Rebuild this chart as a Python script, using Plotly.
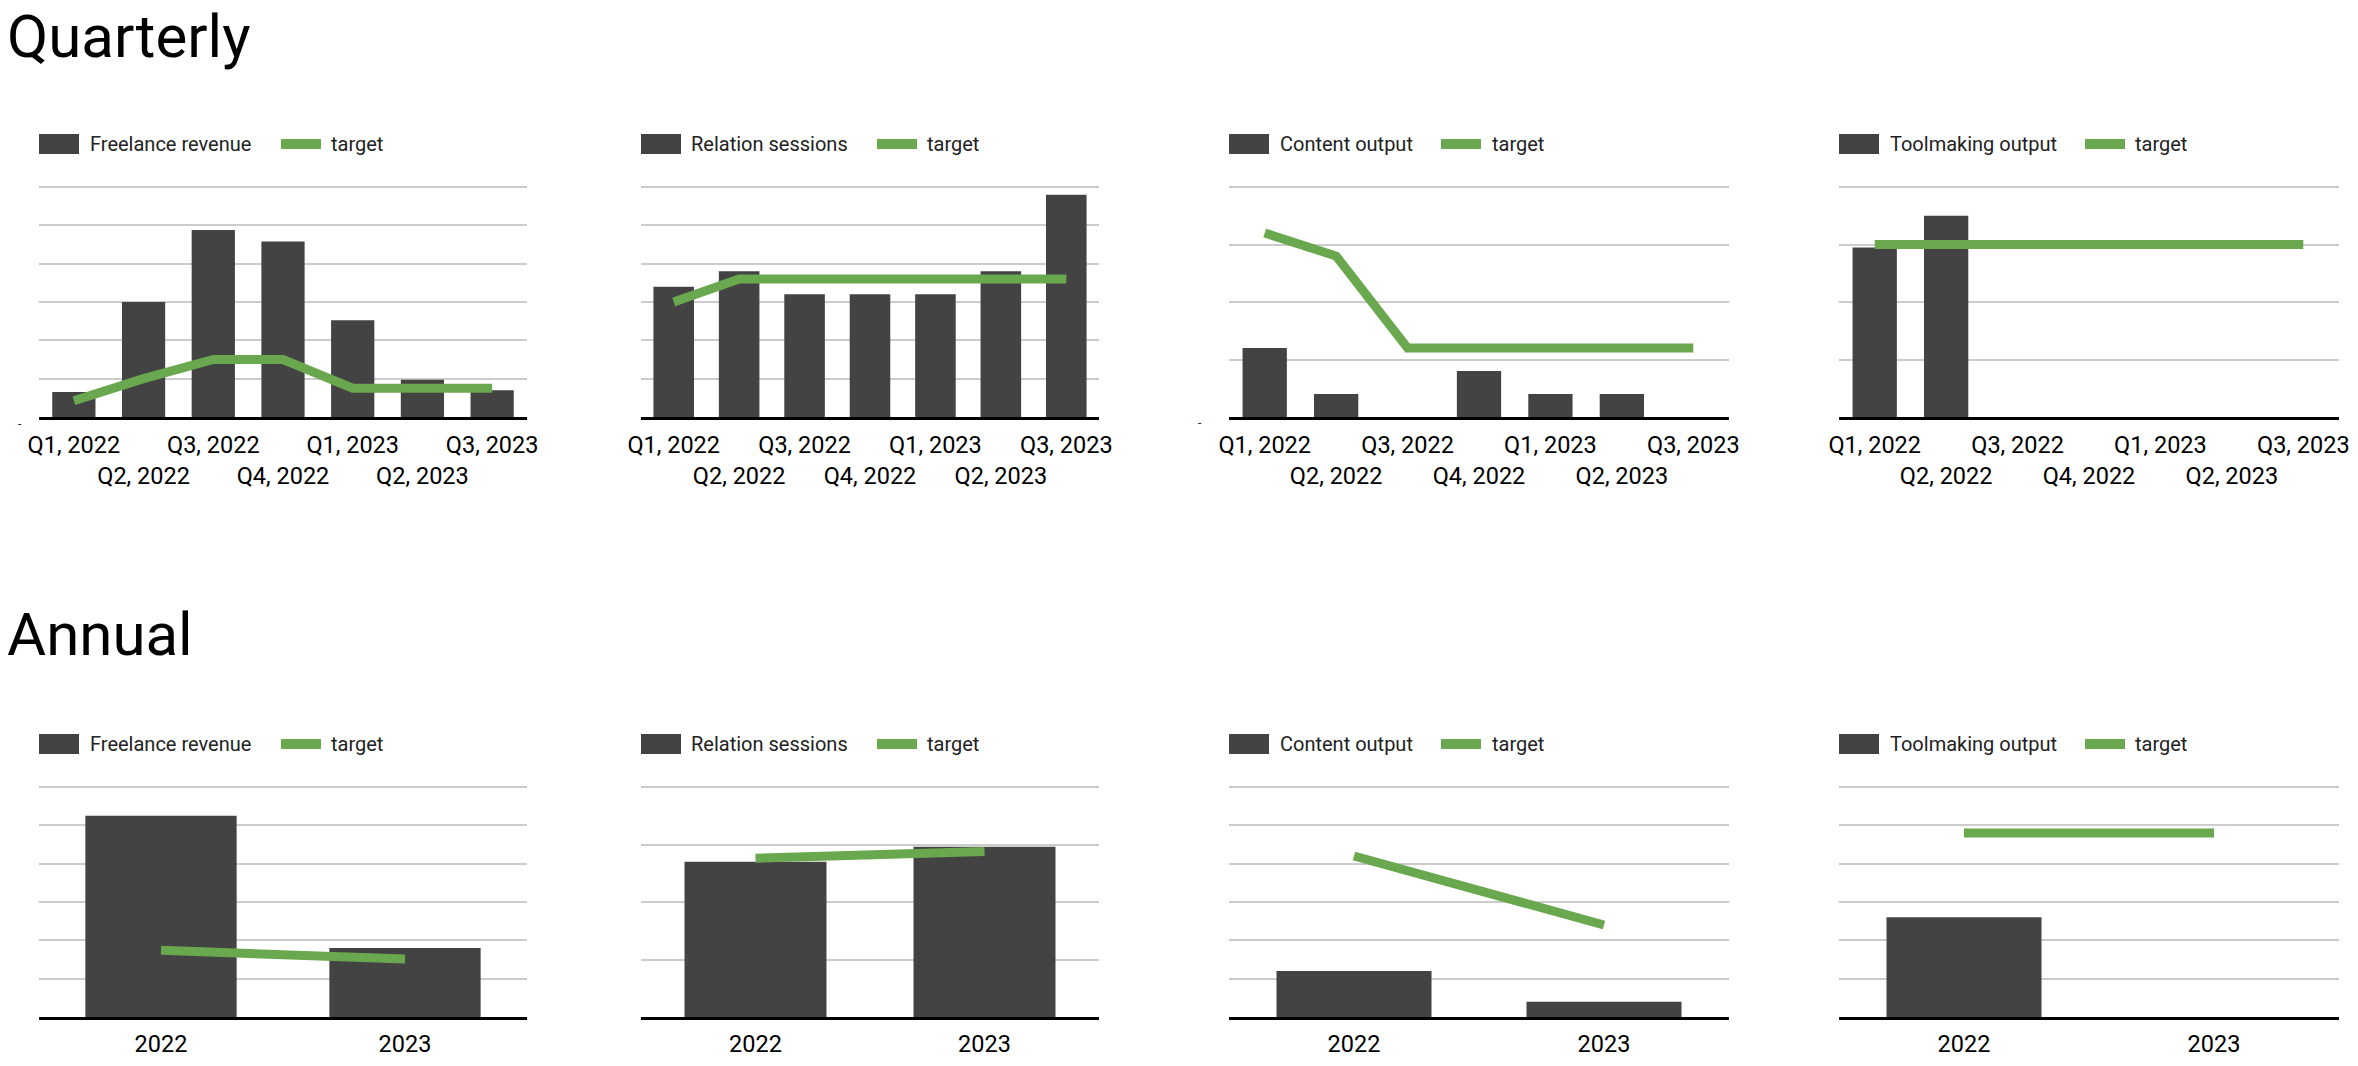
import plotly.graph_objects as go

W, H = 2358, 1066

# ---------------- data ----------------
quarters = ["Q1, 2022", "Q2, 2022", "Q3, 2022", "Q4, 2022", "Q1, 2023", "Q2, 2023", "Q3, 2023"]
years = ["2022", "2023"]

freelance_q = [1300, 6000, 9750, 9150, 5050, 1950, 1400]
freelance_q_target = [850, 2000, 3000, 3000, 1500, 1500, 1500]
relation_q = [17, 19, 16, 16, 16, 19, 29]
relation_q_target = [15, 18, 18, 18, 18, 18, 18]
content_q = [3, 1, 0, 2, 1, 1, 0]
content_q_target = [8, 7, 3, 3, 3, 3, 3]
tool_q = [5.9, 7, 0, 0, 0, 0, 0]
tool_q_target = [6, 6, 6, 6, 6, 6, 6]

freelance_y = [26250, 9000]
freelance_y_target = [8700, 7550]
relation_y = [67.5, 74]
relation_y_target = [69, 72]
content_y = [6, 2]
content_y_target = [21, 12]
tool_y = [13, 0]
tool_y_target = [24, 24]

series_names = ["Freelance revenue", "Relation sessions", "Content output", "Toolmaking output"]

# ---------------- styling ----------------
BAR = "#434343"
GREEN = "#6aa84f"
GRID = "#cccccc"
FONT = "Roboto"
PAD = 1.01  # headroom so the top gridline is drawn

fig = go.Figure()

def px_x(p):
    return p / W

def px_y(p):
    return 1 - p / H

# column plot extents (px)
cols = [(39, 527), (641, 1099), (1229, 1729), (1839, 2339)]
rows = {"q": (187, 417), "y": (787, 1017)}

charts = [
    ("q", 0, quarters, freelance_q, freelance_q_target, 12000, 2000),
    ("q", 1, quarters, relation_q, relation_q_target, 30, 5),
    ("q", 2, quarters, content_q, content_q_target, 10, 2.5),
    ("q", 3, quarters, tool_q, tool_q_target, 8, 2),
    ("y", 0, years, freelance_y, freelance_y_target, 30000, 5000),
    ("y", 1, years, relation_y, relation_y_target, 100, 25),
    ("y", 2, years, content_y, content_y_target, 30, 5),
    ("y", 3, years, tool_y, tool_y_target, 30, 5),
]

layout_axes = {}
for i, (row, col, cats, bars, tgt, ymax, dt) in enumerate(charts, start=1):
    xa = "x" if i == 1 else f"x{i}"
    ya = "y" if i == 1 else f"y{i}"
    fig.add_trace(go.Bar(x=cats, y=bars, marker=dict(color=BAR, line=dict(width=0)),
                         name=series_names[col], xaxis=xa, yaxis=ya, showlegend=False))
    fig.add_trace(go.Scatter(x=cats, y=tgt, mode="lines", line=dict(color=GREEN, width=9),
                             name="target", xaxis=xa, yaxis=ya, showlegend=False))
    x0, x1 = cols[col]
    top, base = rows[row]
    top_ext = base - (base - top) * PAD
    if row == "q":
        ticktext = [c if k % 2 == 0 else "<br>" + c for k, c in enumerate(cats)]
        standoff = 5
    else:
        ticktext = list(cats)
        standoff = 4
    layout_axes["xaxis" if i == 1 else f"xaxis{i}"] = dict(
        domain=[px_x(x0), px_x(x1)], anchor=ya, type="category",
        range=[-0.5, len(cats) - 0.5], tickvals=cats, ticktext=ticktext,
        tickangle=0, showgrid=False, showline=True, linecolor="#000000", linewidth=2.5,
        ticks="", ticklabelstandoff=standoff,
        tickfont=dict(family=FONT, size=23.5, color="#000000"), zeroline=False,
        fixedrange=True, automargin=False,
    )
    layout_axes["yaxis" if i == 1 else f"yaxis{i}"] = dict(
        domain=[px_y(base), px_y(top_ext)], anchor=xa, range=[0, ymax * PAD], dtick=dt, tick0=0,
        showticklabels=False, showgrid=True, gridcolor=GRID, gridwidth=2,
        zeroline=False, showline=False, ticks="", fixedrange=True, automargin=False,
    )

fig.update_layout(**layout_axes)

# ---------------- custom legends & titles ----------------
shapes = []
annotations = []
legend_pos = [
    # rect_x0, text_x, line_x0, target_x
    (39, 88, 281, 329),
    (641, 689, 877, 925),
    (1229, 1278, 1441, 1490),
    (1839, 1888, 2085, 2133),
]
for row_name, yc in (("q", 144), ("y", 744)):
    for col, (rx, tx, lx, gx) in enumerate(legend_pos):
        shapes.append(dict(type="rect", xref="paper", yref="paper",
                           x0=px_x(rx), x1=px_x(rx + 40), y0=px_y(yc + 10), y1=px_y(yc - 10),
                           fillcolor=BAR, line=dict(width=0)))
        shapes.append(dict(type="line", xref="paper", yref="paper",
                           x0=px_x(lx), x1=px_x(lx + 40), y0=px_y(yc), y1=px_y(yc),
                           line=dict(color=GREEN, width=10)))
        annotations.append(dict(text=series_names[col], xref="paper", yref="paper",
                                x=px_x(tx), y=px_y(yc), xanchor="left", yanchor="middle",
                                showarrow=False, font=dict(family=FONT, size=20, color="#222222")))
        annotations.append(dict(text="target", xref="paper", yref="paper",
                                x=px_x(gx), y=px_y(yc), xanchor="left", yanchor="middle",
                                showarrow=False, font=dict(family=FONT, size=20, color="#222222")))

annotations.append(dict(text="Quarterly", xref="paper", yref="paper", x=px_x(6), y=1,
                        xanchor="left", yanchor="top", showarrow=False, borderpad=0,
                        font=dict(family=FONT, size=60, color="#000000")))
annotations.append(dict(text="Annual", xref="paper", yref="paper", x=px_x(6), y=px_y(598),
                        xanchor="left", yanchor="top", showarrow=False, borderpad=0,
                        font=dict(family=FONT, size=60, color="#000000")))
for dx, dy in ((20, 424), (1200, 423)):
    annotations.append(dict(text="-", xref="paper", yref="paper", x=px_x(dx), y=px_y(dy),
                            xanchor="center", yanchor="middle", showarrow=False,
                            font=dict(family=FONT, size=12, color="#222222")))

fig.update_layout(
    width=W, height=H, margin=dict(l=0, r=0, t=0, b=0, pad=0), autosize=False,
    paper_bgcolor="#ffffff", plot_bgcolor="#ffffff",
    bargap=0.38, showlegend=False, shapes=shapes, annotations=annotations,
    font=dict(family=FONT), hovermode=False,
)

fig.write_html("out.html", config={"displayModeBar": False},
               post_script="document.body.style.margin='0';document.body.style.overflow='hidden';")
